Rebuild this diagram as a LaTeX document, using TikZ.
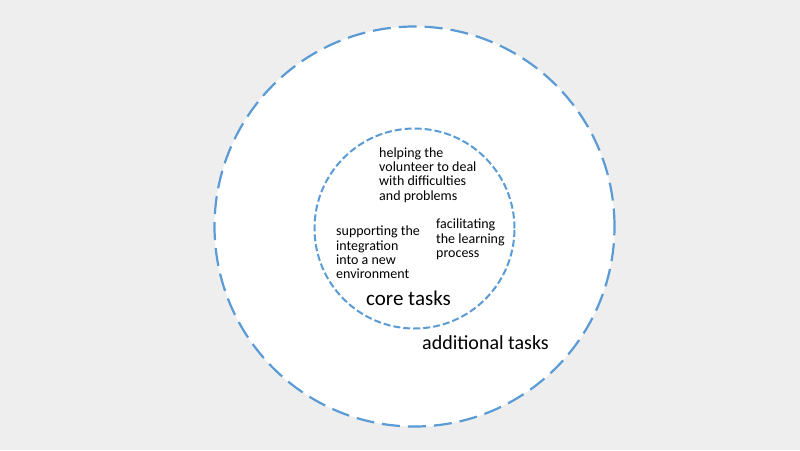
\documentclass[tikz,border=0pt]{standalone}
\usepackage{fontspec}
\setmainfont{Carlito}
\usepackage{tikz}
\usetikzlibrary{positioning}

\definecolor{ringblue}{HTML}{5B9BD5}
\definecolor{canvasgray}{HTML}{EEEEEE}

\tikzset{
    ring/.style={circle, draw=ringblue, fill=white, inner sep=0pt},
    tasktext/.style={align=left, inner sep=0pt, anchor=west, font=\fontsize{14}{14.3}\selectfont},
    ringlabel/.style={inner sep=0pt, font=\fontsize{20}{24}\selectfont}
}

\begin{document}
\begin{tikzpicture}[x=1pt, y=-1pt]
    % Background
    \fill[canvasgray] (0,0) rectangle (800,450);
    \useasboundingbox (0,0) rectangle (800,450);

    % Additional tasks (outer ring)
    \node[ring, line width=2.2pt, dash pattern=on 18pt off 8pt, minimum size=400pt] 
        (additional) at (414.5, 226.5) {};
    % Core tasks (inner ring)
    \node[ring, line width=2pt, dash pattern=on 7pt off 3pt, minimum size=200pt] 
        (core) at (414.5, 228.5) {};

    % Core tasks
    \node[tasktext] (helping) at (379, 175) {helping the\\volunteer to deal\\with difficulties\\and problems};
    \node[tasktext] (supporting) at (336, 252.5) {supporting the\\integration\\into a new\\environment};
    \node[tasktext] (facilitating) at (436, 239.5) {facilitating\\the learning\\process};

    % Ring labels
    \node[ringlabel, font=\fontsize{21}{24}\selectfont] (corelabel) at (408.5, 298.5) {core tasks};
    \node[ringlabel] (additionallabel) at (485.5, 342.5) {additional tasks};
\end{tikzpicture}
\end{document}
